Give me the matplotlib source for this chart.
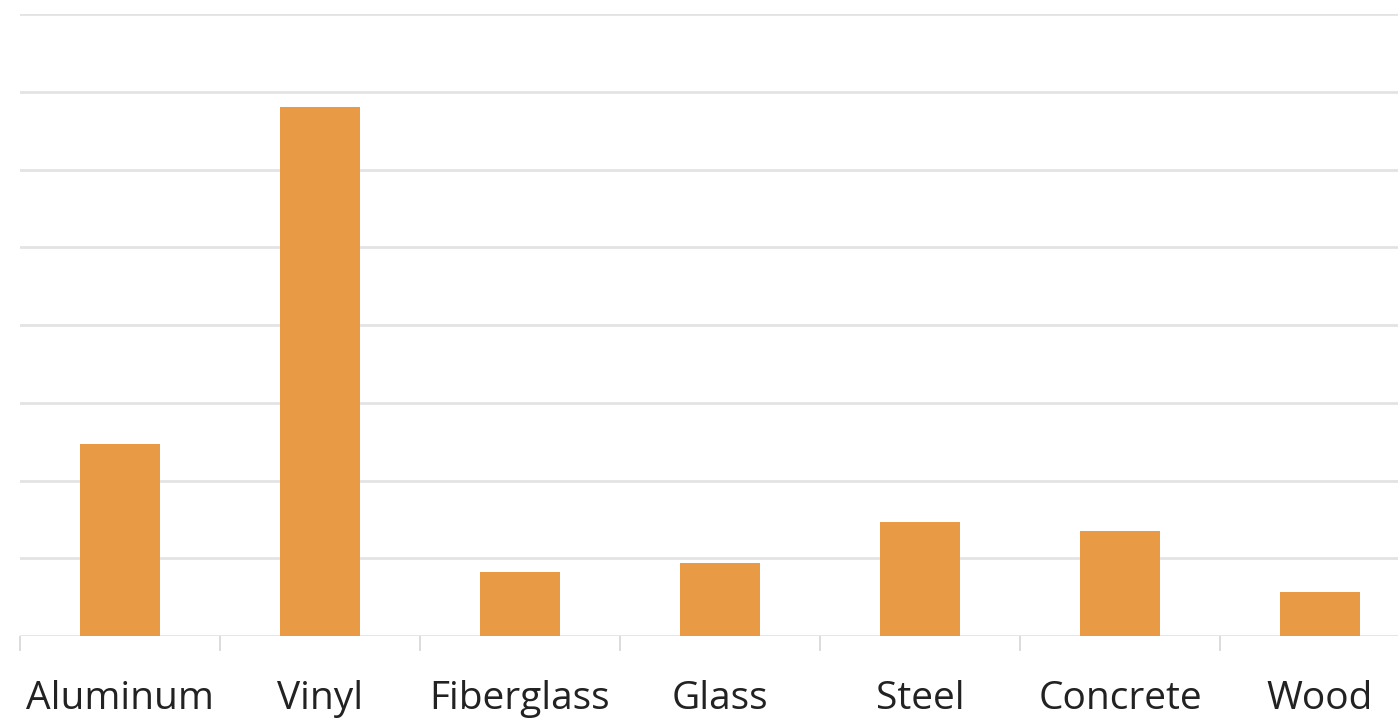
import numpy as np
import matplotlib.pyplot as plt

# materials and their values (one unit per gridline)
materials = ['Aluminum', 'Vinyl', 'Fiberglass', 'Glass', 'Steel', 'Concrete', 'Wood']
values = [2.47, 6.80, 0.82, 0.94, 1.47, 1.35, 0.57]

bar_color = '#E89A45'
grid_color = '#E3E3E3'

fig = plt.figure(figsize=(13.98, 7.2), dpi=100)
W, H = 1398, 720
ax = fig.add_axes([20 / W, 84 / H, 1400 / W, 622 / H])

x = np.arange(len(materials))
ax.bar(x, values, width=0.4, color=bar_color, zorder=3)

ax.set_xlim(-0.5, len(materials) - 0.5)
ax.set_ylim(0, 8)
ax.set_yticks(np.arange(0, 9, 1))
ax.yaxis.grid(True, color=grid_color, linewidth=2)
ax.tick_params(axis='y', left=False, labelleft=False)

for s in ['top', 'right', 'left', 'bottom']:
    ax.spines[s].set_visible(False)

# labels under each bar, small separators between groups
ax.set_xticks(x)
ax.set_xticklabels(materials, fontsize=28, color='#222222', family='Open Sans')
ax.tick_params(axis='x', which='major', length=0, pad=31.5)
ax.set_xticks(np.arange(-0.5, len(materials), 1), minor=True)
ax.tick_params(axis='x', which='minor', length=11, width=1.2, color='#D5D5D5')

fig.savefig('out.png', dpi=100)
